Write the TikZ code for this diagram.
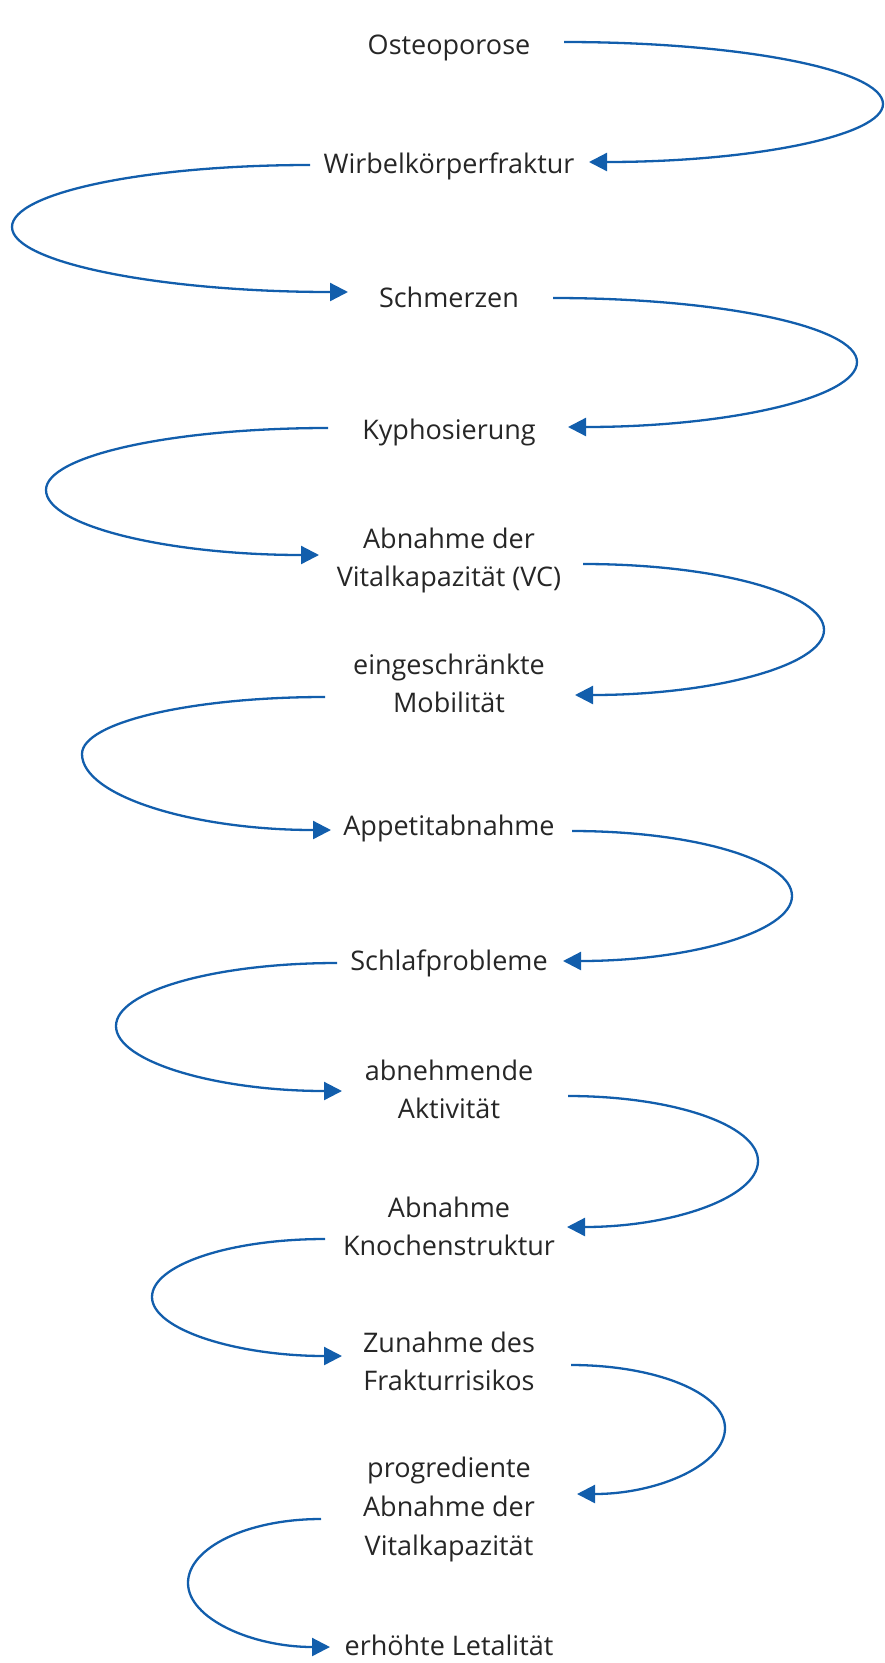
\documentclass[tikz,border=0pt]{standalone}
\usepackage{fontspec}
\setmainfont{Open Sans}
\usetikzlibrary{arrows.meta,calc}
\definecolor{arrowblue}{RGB}{18,94,172}
\definecolor{textgray}{RGB}{38,38,38}
\tikzset{
  lbl/.style={anchor=base, align=center, inner sep=0pt, text=textgray,
    font=\fontsize{27}{37.5}\selectfont},
  arr/.style={draw=arrowblue, line width=2.3pt, -{Triangle[length=18pt,width=18pt]}},
}
\newcommand\spiralarrow[3]{%
  \draw[arr] (#1) .. controls ($(#1)!0.5523!(#1-|#2)$) and ($(#2)!0.5523!(#2|-#1)$) .. (#2)
    .. controls ($(#2)!0.5523!(#2|-#3)$) and ($(#3)!0.5523!(#3-|#2)$) .. (#3);}
\begin{document}
\begin{tikzpicture}[x=1pt,y=-1pt]
\useasboundingbox (0,0) rectangle (885,1663);
% nodes (placed at the baseline of their last line)
\node[lbl] (n1)  at (449,54)   {Osteoporose};
\node[lbl] (n2)  at (449,173)  {Wirbelkörperfraktur};
\node[lbl] (n3)  at (449,307)  {Schmerzen};
\node[lbl] (n4)  at (449,439)  {Kyphosierung};
\node[lbl] (n5)  at (449,586)  {Abnahme der\\Vitalkapazität (VC)};
\node[lbl] (n6)  at (449,712)  {eingeschränkte\\Mobilität};
\node[lbl] (n7)  at (449,835)  {Appetitabnahme};
\node[lbl] (n8)  at (449,970)  {Schlafprobleme};
\node[lbl] (n9)  at (449,1118) {abnehmende\\Aktivität};
\node[lbl] (n10) at (449,1255) {Abnahme\\Knochenstruktur};
\node[lbl] (n11) at (449,1390) {Zunahme des\\Frakturrisikos};
\node[lbl, font=\fontsize{27}{39}\selectfont] (n12) at (449,1555) {progrediente\\Abnahme der\\Vitalkapazität};
\node[lbl] (n13) at (449,1655) {erhöhte Letalität};
% connector end points (relative to the nodes) and turning points
\coordinate (s1)  at ($(n1.base)+(115,-12)$);
\coordinate (m1)  at (883,104);
\coordinate (e1)  at ($(n2.base)+(140,-11)$);
\coordinate (s2)  at ($(n2.base)+(-139,-8)$);
\coordinate (m2)  at (12,227);
\coordinate (e2)  at ($(n3.base)+(-101,-15)$);
\coordinate (s3)  at ($(n3.base)+(104,-9)$);
\coordinate (m3)  at (857,362);
\coordinate (e3)  at ($(n4.base)+(119,-12)$);
\coordinate (s4)  at ($(n4.base)+(-121,-11)$);
\coordinate (m4)  at (46,490);
\coordinate (e4)  at ($(n5.base)+(-130,-31)$);
\coordinate (s5)  at ($(n5.base)+(134,-22)$);
\coordinate (m5)  at (824,630);
\coordinate (e5)  at ($(n6.base)+(126,-17)$);
\coordinate (s6)  at ($(n6.base)+(-124,-15)$);
\coordinate (m6)  at (82,754);
\coordinate (e6)  at ($(n7.base)+(-118,-5)$);
\coordinate (s7)  at ($(n7.base)+(123,-4)$);
\coordinate (m7)  at (792,896);
\coordinate (e7)  at ($(n8.base)+(114,-9)$);
\coordinate (s8)  at ($(n8.base)+(-112,-7)$);
\coordinate (m8)  at (116,1026);
\coordinate (e8)  at ($(n9.base)+(-107,-27)$);
\coordinate (s9)  at ($(n9.base)+(119,-22)$);
\coordinate (m9)  at (758,1161);
\coordinate (e9)  at ($(n10.base)+(118,-28)$);
\coordinate (s10) at ($(n10.base)+(-124,-16)$);
\coordinate (m10) at (152,1297);
\coordinate (e10) at ($(n11.base)+(-107,-34)$);
\coordinate (s11) at ($(n11.base)+(122,-25)$);
\coordinate (m11) at (725,1428);
\coordinate (e11) at ($(n12.base)+(128,-61)$);
\coordinate (s12) at ($(n12.base)+(-128,-36)$);
\coordinate (m12) at (188,1583);
\coordinate (e12) at ($(n13.base)+(-119,-8)$);
% connectors
\spiralarrow{s1}{m1}{e1}
\spiralarrow{s2}{m2}{e2}
\spiralarrow{s3}{m3}{e3}
\spiralarrow{s4}{m4}{e4}
\spiralarrow{s5}{m5}{e5}
\spiralarrow{s6}{m6}{e6}
\spiralarrow{s7}{m7}{e7}
\spiralarrow{s8}{m8}{e8}
\spiralarrow{s9}{m9}{e9}
\spiralarrow{s10}{m10}{e10}
\spiralarrow{s11}{m11}{e11}
\spiralarrow{s12}{m12}{e12}
\end{tikzpicture}
\end{document}
